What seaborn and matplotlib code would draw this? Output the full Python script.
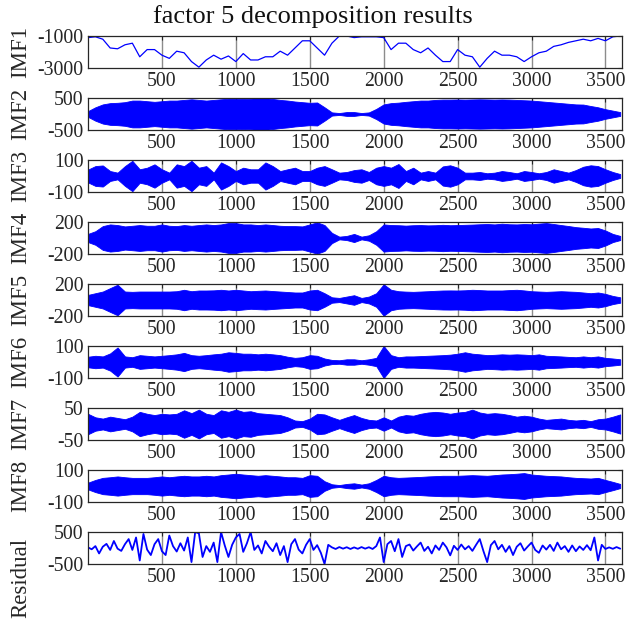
import numpy as np
import pandas as pd
import matplotlib
matplotlib.use("Agg")
import matplotlib.pyplot as plt
import seaborn as sns

# ---- data ---------------------------------------------------------------
title_text = "factor 5 decomposition results"
panel_names = ["IMF1", "IMF2", "IMF3", "IMF4", "IMF5", "IMF6", "IMF7", "IMF8", "Residual"]
x_ticks = [500, 1000, 1500, 2000, 2500, 3000, 3500]
y_limits = [(-3000, -1000), (-500, 500), (-100, 100), (-200, 200), (-200, 200),
            (-100, 100), (-50, 50), (-100, 100), (-500, 500)]

# sample index of the tabulated values (every 50 samples / every 25 for the residual)
imf_index = np.arange(0, 3601, 50)
res_index = np.arange(0, 3601, 25)

imf1 = [-1100, -1050, -1200, -1750, -1800, -1550, -1450, -2300, -1850, -1850,
        -2200, -2400, -1950, -2050, -2600, -2950, -2500, -2200, -2450, -2250,
        -2600, -2100, -2500, -2500, -2300, -2300, -1950, -2200, -1750, -1300,
        -1300, -1750, -2200, -1450, -1000, -1000, -1100, -1050, -1050, -1050,
        -1100, -1850, -1450, -1450, -1850, -2050, -1750, -2200, -2600, -2600,
        -1850, -2200, -2300, -2950, -2400, -1950, -2200, -2200, -2300, -2600,
        -2300, -2050, -1950, -1650, -1550, -1400, -1300, -1200, -1300, -1150,
        -1300, -1050, -1000]

# amplitude envelopes of the oscillatory modes
imf2_amp = [90, 210, 300, 340, 350, 370, 420, 420, 400, 380,
            400, 420, 420, 440, 460, 440, 420, 440, 460, 480,
            480, 470, 480, 495, 495, 470, 440, 420, 390, 370,
            350, 360, 210, 50, 30, 60, 60, 30, 50, 160,
            300, 340, 355, 380, 400, 420, 420, 440, 450, 450,
            455, 450, 455, 460, 455, 450, 455, 450, 440, 430,
            420, 400, 380, 360, 340, 320, 300, 295, 250, 210,
            150, 105, 60]
imf3_amp = [40, 62, 66, 31, 21, 62, 95, 42, 52, 73,
            42, 21, 73, 62, 95, 52, 62, 21, 85, 62,
            31, 52, 42, 42, 85, 62, 31, 42, 52, 31,
            31, 52, 62, 42, 21, 25, 37, 42, 25, 52,
            62, 52, 75, 31, 52, 21, 31, 21, 60, 67,
            52, 21, 21, 25, 17, 21, 31, 25, 17, 31,
            25, 17, 25, 42, 31, 21, 37, 58, 67, 62,
            42, 25, 12]
imf4_amp = [51, 85, 149, 170, 162, 145, 153, 162, 153, 153,
            170, 153, 149, 162, 153, 162, 170, 162, 170, 187,
            187, 170, 170, 162, 170, 162, 153, 149, 149, 145,
            170, 196, 162, 64, 17, 26, 51, 17, 34, 85,
            170, 162, 160, 155, 160, 162, 158, 160, 165, 160,
            162, 165, 168, 172, 175, 170, 179, 172, 170, 175,
            172, 180, 187, 175, 162, 150, 136, 128, 119, 125,
            94, 51, 26]
imf5_amp = [64, 85, 106, 149, 191, 106, 102, 106, 106, 106,
            106, 106, 110, 128, 110, 119, 119, 121, 128, 119,
            128, 119, 110, 115, 119, 112, 106, 100, 94, 94,
            119, 128, 85, 34, 26, 43, 60, 26, 43, 85,
            196, 128, 110, 105, 102, 106, 110, 115, 119, 120,
            119, 122, 128, 124, 119, 119, 119, 124, 128, 120,
            110, 106, 102, 106, 110, 106, 102, 94, 85, 94,
            77, 51, 34]
imf6_amp = [33, 39, 35, 54, 91, 35, 30, 43, 39, 35,
            39, 43, 48, 57, 43, 39, 43, 48, 52, 61,
            57, 52, 52, 48, 52, 48, 43, 33, 26, 30,
            43, 39, 22, 13, 11, 17, 17, 11, 17, 26,
            100, 43, 30, 35, 35, 37, 39, 41, 43, 46,
            52, 61, 52, 48, 43, 45, 48, 46, 48, 46,
            43, 48, 39, 37, 35, 32, 30, 35, 30, 35,
            26, 22, 17]
imf7_amp = [32, 21, 17, 23, 19, 15, 23, 38, 32, 28,
            32, 30, 32, 43, 34, 45, 32, 28, 43, 38,
            45, 38, 40, 34, 32, 30, 28, 21, 11, 9,
            17, 32, 30, 21, 13, 21, 28, 19, 13, 11,
            21, 11, 23, 28, 26, 32, 36, 38, 36, 32,
            36, 38, 45, 36, 32, 34, 32, 28, 23, 26,
            23, 17, 13, 15, 17, 13, 11, 13, 9, 15,
            17, 23, 30]
imf8_amp = [21, 38, 51, 55, 60, 55, 51, 51, 51, 55,
            60, 55, 60, 64, 60, 60, 64, 60, 68, 72,
            77, 72, 68, 64, 68, 64, 60, 55, 55, 51,
            68, 64, 30, 11, 6, 13, 17, 9, 17, 38,
            64, 55, 51, 53, 55, 57, 60, 62, 64, 64,
            64, 66, 68, 66, 64, 68, 72, 74, 77, 81,
            72, 68, 64, 62, 60, 55, 51, 49, 47, 51,
            38, 26, 13]

residual = [20, -40, 60, -170, 40, 130, -60, 220, -20, -90,
            120, 280, -60, 330, -390, 440, -50, -220, 120, 280,
            -100, -220, 390, 60, -110, 150, -80, 330, -440, 500,
            460, -280, 60, -120, 170, -440, 500, 80, -280, 100,
            330, 440, -120, 150, 500, -60, 80, -170, 220, 40,
            -100, 150, -220, 60, -440, 120, 280, -50, -170, 100,
            280, -60, 90, -150, -500, 100, 20, -30, 30, -20,
            25, -30, 20, -25, 30, -20, 25, -30, 60, 330,
            -440, 120, 220, -100, 280, -280, 60, 110, -80, 50,
            170, -90, 40, -170, 80, -60, 170, 20, -230, 70,
            -60, 110, -40, 60, -90, 100, 280, -100, -440, 90,
            220, -40, 100, -120, 60, -220, 40, 150, -80, 50,
            170, -60, -150, 80, -50, 100, -90, 170, -40, 60,
            -120, 80, -100, 50, -60, 90, -70, 330, -390, 100,
            -30, 20, -25, 30, -20]

envelopes = [imf2_amp, imf3_amp, imf4_amp, imf5_amp, imf6_amp, imf7_amp, imf8_amp]

# ---- style ---------------------------------------------------------------
sns.set_style("white")
plt.rcParams["font.family"] = ["Liberation Serif", "DejaVu Serif"]
plt.rcParams["axes.edgecolor"] = "#262626"
plt.rcParams["axes.linewidth"] = 0.9

blue = "#0000ff"
fig, axes = plt.subplots(9, 1, figsize=(6.25, 6.2), dpi=100)
fig.subplots_adjust(left=88 / 625, right=622 / 625, top=1 - 36 / 620,
                    bottom=1 - 564 / 620, hspace=0.94)

for i, ax in enumerate(axes):
    if i == 0:
        df = pd.DataFrame({"t": imf_index, "v": imf1})
        sns.lineplot(data=df, x="t", y="v", ax=ax, color=blue, lw=0.9)
    elif i == 8:
        df = pd.DataFrame({"t": res_index, "v": residual})
        sns.lineplot(data=df, x="t", y="v", ax=ax, color=blue, lw=1.3)
    else:
        amp = np.asarray(envelopes[i - 1], dtype=float)
        ax.fill_between(imf_index, -amp, amp, color=blue, lw=0.6, ec=blue)

    lo, hi = y_limits[i]
    ax.set_xlim(0, 3612)
    ax.set_ylim(lo, hi)
    ax.set_xticks(x_ticks)
    ax.set_yticks([lo, hi])
    ax.set_yticklabels([f"{lo}", f"{hi}"])
    ax.set_xlabel("")
    ax.set_ylabel(panel_names[i], fontsize=16.5, labelpad=0)
    # the long bottom label hangs below its panel
    ax.yaxis.set_label_coords(-0.106, 0.5 if i < 8 else -0.45)
    ax.grid(axis="x", color="#8c8c8c", lw=1.0)
    ax.set_axisbelow(True)
    ax.tick_params(axis="both", labelsize=14.2, direction="in", length=3,
                   colors="#262626", labelcolor="#262626", pad=3,
                   right=True, top=True)
    for sp in ax.spines.values():
        sp.set_visible(True)

fig.suptitle(title_text, fontsize=19, x=0.5, y=1 - 17 / 620, va="center",
             color="#111111")
fig.savefig("out.png", dpi=100)
